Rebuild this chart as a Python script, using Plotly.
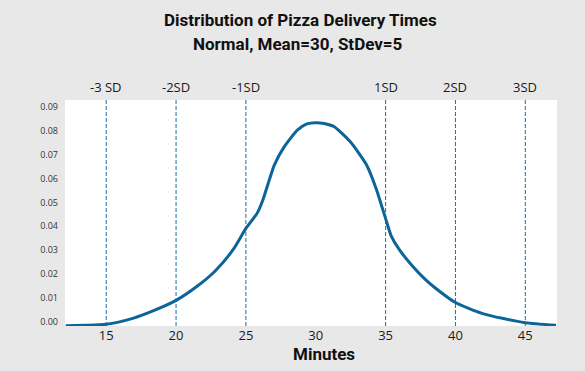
import plotly.graph_objects as go

# ---- data ----
minutes = [12.1, 13.5, 15.0, 16.9, 18.35, 20.0, 21.53, 22.8, 24.08, 25.0, 25.82,
           26.22, 26.68, 27.04, 27.75, 28.7, 29.37, 30.0, 30.6, 31.3, 32.46,
           33.63, 34.35, 35.0, 35.4, 35.97, 36.89, 37.8, 38.49, 40.0, 41.9,
           43.44, 45.0, 47.2]
density = [-0.0016, -0.0014, -0.0010, 0.0015, 0.0046, 0.0090, 0.0150, 0.0213,
           0.0302, 0.0391, 0.0456, 0.0511, 0.0595, 0.0657, 0.0733, 0.0803,
           0.0828, 0.0833, 0.0830, 0.0817, 0.0754, 0.0657, 0.0553, 0.0432,
           0.0360, 0.0303, 0.0236, 0.0180, 0.0145, 0.0081, 0.0036, 0.0014,
           -0.0003, -0.0014]

sd_positions = [15, 20, 25, 35, 40, 45]
sd_labels = ["-3 SD", "-2SD", "-1SD", "1SD", "2SD", "3SD"]

x_ticks = [15, 20, 25, 30, 35, 40, 45]
y_ticks = [0.00, 0.01, 0.02, 0.03, 0.04, 0.05, 0.06, 0.07, 0.08, 0.09]

title_line1 = "Distribution of Pizza Delivery Times"
title_line2 = "Normal, Mean=30, StDev=5"
x_title = "Minutes"
watermark_a = "ureka!edureka!edureka!edurek"
watermark_b = "a!edureka!edureka!edureka!ed"

CURVE = "#0b6599"
DASH = "#1a6ea6"

fig = go.Figure()
fig.add_trace(go.Scatter(
    x=minutes, y=density, mode="lines",
    line=dict(color=CURVE, width=3, shape="spline", smoothing=0.6),
    hoverinfo="x+y", showlegend=False,
))

shapes = []
for p in sd_positions:
    shapes.append(dict(type="line", xref="x", yref="paper", x0=p, x1=p,
                       y0=0, y1=1, layer="below",
                       line=dict(color=DASH, width=1, dash="4px,2px")))

annotations = []
plot_top, plot_bottom = 100, 326.5
ph = plot_bottom - plot_top
PW = 492
# watermark rows
row_y = [18, 56, 94, 132, 170, 208, 246, 284, 322, 352]
for i, yy in enumerate(row_y):
    annotations.append(dict(
        text="<b>" + (watermark_a if i % 2 == 0 else watermark_b) + "</b>",
        xref="paper", yref="paper", x=(-65 + 4) / PW,
        y=(plot_bottom - yy) / ph, xanchor="left", yanchor="middle",
        showarrow=False,
        font=dict(family="Liberation Mono", size=34, color="rgba(0,0,0,0.022)"),
    ))

for p, lab in zip(sd_positions, sd_labels):
    annotations.append(dict(text=lab, xref="x", yref="paper", x=p,
                            y=(plot_bottom - 87) / ph, xanchor="center",
                            yanchor="middle", showarrow=False,
                            font=dict(family="Open Sans", size=13, color="#1a1a1a")))

annotations.append(dict(text="<b>" + title_line1 + "</b>", xref="paper", yref="paper",
                        x=(300 - 65) / PW, y=(plot_bottom - 20) / ph,
                        xanchor="center", yanchor="middle", showarrow=False,
                        font=dict(family="Roboto", size=17, color="#111")))
annotations.append(dict(text="<b>" + title_line2 + "</b>", xref="paper", yref="paper",
                        x=(298 - 65) / PW, y=(plot_bottom - 44) / ph,
                        xanchor="center", yanchor="middle", showarrow=False,
                        font=dict(family="Roboto", size=17, color="#111")))
annotations.append(dict(text="<b>" + x_title + "</b>", xref="paper", yref="paper",
                        x=(323.5 - 65) / PW, y=(plot_bottom - 355) / ph,
                        xanchor="center", yanchor="middle", showarrow=False,
                        font=dict(family="Roboto", size=17, color="#111")))

fig.update_layout(
    width=585, height=371,
    margin=dict(l=65, r=28, t=100, b=44.5, pad=0),
    paper_bgcolor="#e8e8e8", plot_bgcolor="#ffffff",
    shapes=shapes, annotations=annotations,
    xaxis=dict(range=[12.05, 47.27], tickvals=x_ticks,
               ticktext=[str(v) for v in x_ticks],
               showgrid=False, zeroline=False, showline=False, ticks="",
               tickfont=dict(family="Open Sans", size=13, color="#1a1a1a")),
    yaxis=dict(range=[-0.0017, 0.0928], tickvals=y_ticks, tickformat=".2f",
               showgrid=False, zeroline=False, showline=False, ticks="",
               ticklabelstandoff=6,
               tickfont=dict(family="Open Sans", size=9, color="#333")),
    font=dict(family="Open Sans"),
)

fig.write_html(
    "out.html",
    config={"displayModeBar": False},
    post_script="document.body.style.margin='0';document.body.style.overflow='hidden';",
)
